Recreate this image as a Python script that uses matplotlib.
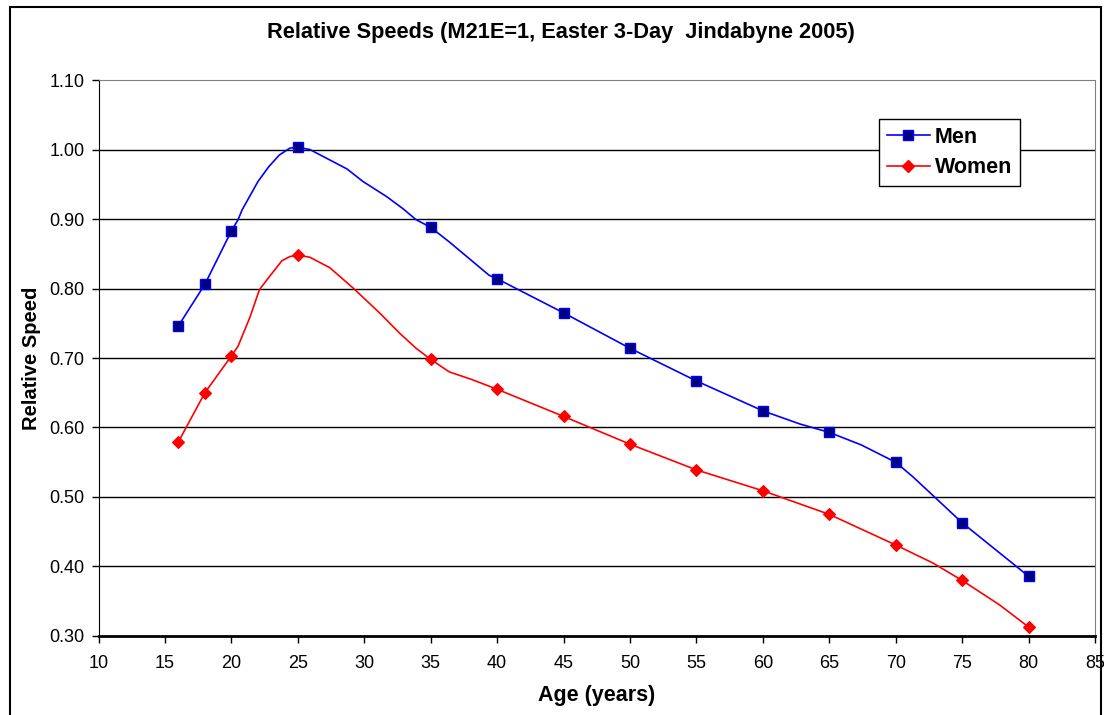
import matplotlib
matplotlib.use("Agg")
import matplotlib.pyplot as plt
from matplotlib.lines import Line2D
from matplotlib.patches import Rectangle

plt.rcParams["font.family"] = ["Liberation Sans", "DejaVu Sans"]

# marker points (age groups)
ages = [16, 18, 20, 25, 35, 40, 45, 50, 55, 60, 65, 70, 75, 80]
men = [0.746, 0.806, 0.883, 1.003, 0.888, 0.814, 0.765, 0.714, 0.667, 0.624, 0.593, 0.550, 0.463, 0.386]
women = [0.579, 0.650, 0.703, 0.848, 0.698, 0.655, 0.616, 0.576, 0.539, 0.509, 0.475, 0.431, 0.380, 0.313]

# fitted curves (vertices)
men_curve_age = [16, 18, 20, 20.5, 20.8, 22.0, 22.8, 23.6, 24.4, 25, 25.9, 27.2, 28.7, 29.9, 31.7,
                 32.9, 33.9, 35, 36.4, 39.4, 40, 45, 50, 55, 60, 62.8, 65, 67.4, 70, 71.3, 75, 80]
men_curve = [0.746, 0.806, 0.883, 0.899, 0.913, 0.954, 0.975, 0.992, 1.002, 1.003, 1.000, 0.987, 0.972,
             0.954, 0.932, 0.915, 0.899, 0.888, 0.867, 0.819, 0.814, 0.765, 0.714, 0.667, 0.624, 0.605,
             0.593, 0.575, 0.550, 0.529, 0.463, 0.386]
women_curve_age = [16, 18, 20, 20.5, 21.4, 22.1, 22.65, 23.8, 24.4, 25, 25.9, 27.4, 29.2, 31.2, 32.7,
                   33.9, 35, 36.4, 38.1, 40, 45, 50, 55, 60, 65, 70, 72.8, 75, 77.8, 80]
women_curve = [0.579, 0.650, 0.703, 0.717, 0.759, 0.798, 0.812, 0.840, 0.846, 0.848, 0.845, 0.830, 0.800,
               0.764, 0.735, 0.714, 0.698, 0.680, 0.669, 0.655, 0.616, 0.576, 0.539, 0.509, 0.475, 0.431,
               0.405, 0.380, 0.345, 0.313]

xticks = list(range(10, 90, 5))
yticks = [0.30, 0.40, 0.50, 0.60, 0.70, 0.80, 0.90, 1.00, 1.10]

BLUE = "#0000ff"; NAVY = "#000080"; RED = "#ff0000"; GRAYB = "#808080"

fig = plt.figure(figsize=(11.04, 7.15), dpi=100)
ax = fig.add_axes([0.0893, 0.1105, 0.9025, 0.7776])

for v in yticks[1:-1]:
    ax.axhline(v, color="black", lw=1.0, zorder=1)

ax.plot(men_curve_age, men_curve, color=BLUE, lw=1.2, zorder=3)
ax.plot(women_curve_age, women_curve, color=RED, lw=1.2, zorder=3)
ax.plot(ages, men, ls="none", marker="s", ms=7, mfc=NAVY, mec=BLUE, mew=1.0, zorder=4)
ax.plot(ages, women, ls="none", marker="D", ms=6.5, mfc=RED, mec=RED, mew=0.8, zorder=4)

ax.set_xlim(10, 85)
ax.set_ylim(0.30, 1.10)
ax.set_xticks(xticks)
ax.set_xticklabels([str(t) for t in xticks])
ax.set_yticks(yticks)
ax.set_yticklabels([f"{t:.2f}" for t in yticks])
ax.tick_params(axis="both", direction="out", length=5, width=1, color="black",
               labelsize=13, pad=5)
ax.tick_params(axis="x", pad=9)
ax.spines["top"].set_color(GRAYB)
ax.spines["right"].set_color(GRAYB)
ax.spines["left"].set_color("black")
ax.spines["bottom"].set_color("black")
ax.spines["bottom"].set_linewidth(2)

ax.set_xlabel("Age (years)", fontsize=15.5, fontweight="bold", labelpad=9)
ax.set_ylabel("Relative Speed", fontsize=14.5, fontweight="bold", labelpad=6)

fig.text(0.508, 0.955, "Relative Speeds (M21E=1, Easter 3-Day  Jindabyne 2005)",
         ha="center", va="center", fontsize=15.7, fontweight="bold")

handles = [Line2D([], [], color=BLUE, lw=1.2, marker="s", ms=7, mfc=NAVY, mec=BLUE),
           Line2D([], [], color=RED, lw=1.2, marker="D", ms=6.5, mfc=RED, mec=RED)]
leg = ax.legend(handles, ["Men", "Women"], loc="upper left",
                bbox_to_anchor=(879 / 1104, 1 - 119 / 715), bbox_transform=fig.transFigure,
                prop={"size": 15.5, "weight": "bold"}, frameon=True, fancybox=False,
                edgecolor="black", framealpha=1, handlelength=2.0, handletextpad=0.25,
                labelspacing=0.45, borderpad=0.35, borderaxespad=0)
leg.get_frame().set_linewidth(1.0)
leg.set_zorder(5)

fig.patches.append(Rectangle((10 / 1104, -0.05), 1091 / 1104, 1.05 - 7 / 715,
                             transform=fig.transFigure, fill=False, ec="black", lw=1.5))

fig.savefig("out.png", dpi=100)
